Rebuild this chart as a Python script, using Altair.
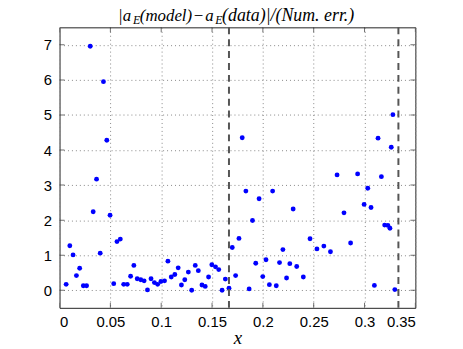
import altair as alt
import pandas as pd

x_vals = [0.0065, 0.0101, 0.0133, 0.0166, 0.0198, 0.0234, 0.0266, 0.0302, 0.0331, 0.0364,
          0.0400, 0.0432, 0.0465, 0.0497, 0.0533, 0.0565, 0.0598, 0.0631, 0.0666, 0.0699,
          0.0731, 0.0764, 0.0799, 0.0832, 0.0865, 0.0900, 0.0933, 0.0965, 0.0997, 0.1033,
          0.1066, 0.1099, 0.1134, 0.1167, 0.1199, 0.1232, 0.1267, 0.1300, 0.1335, 0.1365,
          0.1401, 0.1433, 0.1466, 0.1498, 0.1534, 0.1566, 0.1599, 0.1631, 0.1667, 0.1699,
          0.1732, 0.1765, 0.1797, 0.1833, 0.1865, 0.1898, 0.1930, 0.1963, 0.1999, 0.2031,
          0.2064, 0.2096, 0.2132, 0.2164, 0.2197, 0.2233, 0.2265, 0.2298, 0.2333, 0.2398,
          0.2464, 0.2532, 0.2600, 0.2665, 0.2730, 0.2798, 0.2863, 0.2932, 0.2996, 0.3032,
          0.3064, 0.3097, 0.3133, 0.3166, 0.3198, 0.3230, 0.3250, 0.3263, 0.3279, 0.3298]
y_vals = [0.17, 1.27, 1.01, 0.42, 0.63, 0.13, 0.13, 6.96, 2.24, 3.17,
          1.06, 5.95, 4.28, 2.14, 0.19, 1.39, 1.46, 0.17, 0.17, 0.40,
          0.71, 0.33, 0.30, 0.27, 0.01, 0.33, 0.22, 0.17, 0.25, 0.27,
          0.83, 0.38, 0.45, 0.64, 0.15, 0.30, 0.52, 0.00, 0.71, 0.56,
          0.15, 0.11, 0.38, 0.73, 0.67, 0.59, 0.00, 0.32, 0.06, 1.22,
          0.42, 1.48, 4.35, 2.83, 0.04, 1.99, 0.77, 2.61, 0.39, 0.87,
          0.16, 2.83, 0.13, 0.79, 1.16, 0.35, 0.76, 2.32, 0.68, 0.38,
          1.47, 1.18, 1.26, 1.10, 3.29, 2.21, 1.35, 3.32, 2.45, 2.91,
          2.36, 0.14, 4.34, 3.24, 1.86, 1.85, 1.77, 4.08, 5.01, 0.02]
vlines = [1 / 6, 1 / 3]
x_ticks = [0, 0.05, 0.1, 0.15, 0.2, 0.25, 0.3, 0.35]
y_ticks = [0, 1, 2, 3, 4, 5, 6, 7]

W, H = 359, 283
df = pd.DataFrame({"x": x_vals, "y": y_vals})
xs = alt.Scale(domain=[0, 0.35], nice=False, zero=False)
ys = alt.Scale(domain=[-0.5, 7.5], nice=False, zero=False)

xaxis = alt.Axis(values=x_ticks, format="~g", grid=True, gridDash=[1, 3], gridColor="#888",
                 gridOpacity=1, domain=False, ticks=False, labelPadding=7,
                 labelFont="Liberation Sans", labelFontSize=15, labelColor="black",
                 title="x", titleFont="Liberation Serif", titleFontStyle="italic",
                 titleFontWeight="normal", titleFontSize=19, titleColor="black",
                 titlePadding=-1)
yaxis = alt.Axis(values=y_ticks, format="~g", grid=True, gridDash=[1, 3], gridColor="#888",
                 gridOpacity=1, domain=False, ticks=False, labelPadding=8,
                 labelFont="Liberation Sans", labelFontSize=15, labelColor="black", title=None)

pts = alt.Chart(df).mark_circle(color="#0000ff", opacity=1, size=24).encode(
    x=alt.X("x:Q", scale=xs, axis=xaxis),
    y=alt.Y("y:Q", scale=ys, axis=yaxis),
)

vdf = pd.DataFrame({"v": vlines})
dashes = alt.Chart(vdf).mark_rule(color="#555", strokeWidth=2, strokeDash=[7, 5]).encode(
    x=alt.X("v:Q", scale=xs)
)

xt = pd.DataFrame({"t": x_ticks})
yt = pd.DataFrame({"t": y_ticks})
tick_color = "#333"
xt_bot = alt.Chart(xt).mark_tick(orient="vertical", size=10, thickness=1, color=tick_color, clip=True).encode(
    x=alt.X("t:Q", scale=xs), y=alt.value(H))
xt_top = alt.Chart(xt).mark_tick(orient="vertical", size=10, thickness=1, color=tick_color, clip=True).encode(
    x=alt.X("t:Q", scale=xs), y=alt.value(0))
yt_left = alt.Chart(yt).mark_tick(orient="horizontal", size=10, thickness=1, color=tick_color, clip=True).encode(
    y=alt.Y("t:Q", scale=ys), x=alt.value(0))
yt_right = alt.Chart(yt).mark_tick(orient="horizontal", size=10, thickness=1, color=tick_color, clip=True).encode(
    y=alt.Y("t:Q", scale=ys), x=alt.value(W))

tdf = pd.DataFrame({"k": [0]})
def tpiece(txt, px, py, size, align="left"):
    return alt.Chart(tdf).mark_text(text=txt, font="Liberation Serif", fontStyle="italic",
                                    fontSize=size, align=align, baseline="alphabetic",
                                    color="black").encode(x=alt.value(px), y=alt.value(py))

title_layers = [
    tpiece("|a", 59, -6.5, 17),
    tpiece("E", 74, -3, 12),
    tpiece("(model)", 81, -6.5, 17),
    tpiece("\u2212", 140, -6.5, 17, align="center"),
    tpiece("a", 147, -6.5, 17),
    tpiece("E", 157, -3, 12),
    tpiece("(data)|/(Num. err.)", 164, -6.5, 18),
]

chart = alt.layer(pts, dashes, xt_bot, xt_top, yt_left, yt_right, *title_layers).properties(
    width=W, height=H, autosize="none",
    padding={"left": 52, "top": 18, "right": 40, "bottom": 36},
).configure_view(stroke="#222", strokeWidth=1)

chart.save("out.html", embed_options={"renderer": "svg", "actions": False})
